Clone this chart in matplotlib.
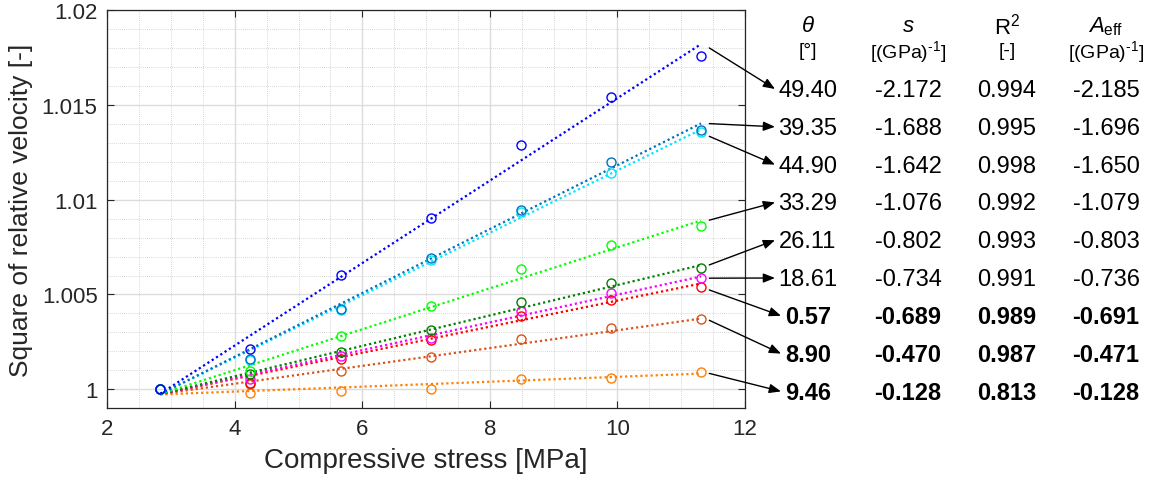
import matplotlib
matplotlib.use("Agg")
import matplotlib.pyplot as plt
from matplotlib.ticker import MultipleLocator

plt.rcParams["font.family"] = ["Liberation Sans", "DejaVu Sans"]
plt.rcParams["mathtext.fontset"] = "custom"
plt.rcParams["mathtext.rm"] = "Liberation Sans"
plt.rcParams["mathtext.it"] = "Liberation Sans:italic"

# compressive stress [MPa]
stress = [2.83, 4.24, 5.66, 7.07, 8.49, 9.90, 11.31]

# measured square of relative velocity, one list per angle
v_4940 = [1.0, 1.00215, 1.00601, 1.00905, 1.01288, 1.01540, 1.01757]
v_3935 = [1.0, 1.00162, 1.00424, 1.00692, 1.00947, 1.01200, 1.01365]
v_4490 = [1.0, 1.00155, 1.00420, 1.00684, 1.00933, 1.01139, 1.01356]
v_3329 = [1.0, 1.00099, 1.00283, 1.00438, 1.00634, 1.00762, 1.00859]
v_2611 = [1.0, 1.00083, 1.00197, 1.00312, 1.00461, 1.00563, 1.00639]
v_1861 = [1.0, 1.00053, 1.00176, 1.00273, 1.00414, 1.00510, 1.00586]
v_0057 = [1.0, 1.00035, 1.00158, 1.00260, 1.00387, 1.00470, 1.00542]
v_0890 = [1.0, 1.00026, 1.00097, 1.00172, 1.00268, 1.00326, 1.00370]
v_0946 = [1.0, 0.99979, 0.99989, 1.00000, 1.00053, 1.00062, 1.00092]

# fitted lines: value at first and last stress
fit_start = [0.99977, 0.99975, 0.99975, 0.99975, 0.99975, 0.99975, 0.99975, 0.99975, 0.99973]
fit_end = [1.01820, 1.01402, 1.01370, 1.00890, 1.00655, 1.00595, 1.00558, 1.00373, 1.00083]
arrow_start = [1.01800, 1.01401, 1.01334, 1.00892, 1.00656, 1.00586, 1.00524, 1.00364, 1.00084]

colors = ["#0000ff", "#0072bd", "#00e5ff", "#00ff00", "#008000",
          "#ff00ff", "#ff0000", "#d95319", "#ff8000"]

# table
theta = ["49.40", "39.35", "44.90", "33.29", "26.11", "18.61", "0.57", "8.90", "9.46"]
s_val = ["-2.172", "-1.688", "-1.642", "-1.076", "-0.802", "-0.734", "-0.689", "-0.470", "-0.128"]
r2_val = ["0.994", "0.995", "0.998", "0.992", "0.993", "0.991", "0.989", "0.987", "0.813"]
aeff_val = ["-2.185", "-1.696", "-1.650", "-1.079", "-0.803", "-0.736", "-0.691", "-0.471", "-0.128"]
bold = [False, False, False, False, False, False, True, True, True]

headers = [r"$\mathit{\theta}$", r"$\mathit{s}$", r"R$^2$", r"$\mathit{A}_{\mathrm{eff}}$"]
units = ["[°]", r"[(GPa)$^{\text{-1}}$]", "[-]", r"[(GPa)$^{\text{-1}}$]"]

yticks = [1.0, 1.005, 1.01, 1.015, 1.02]
ytick_labels = ["1", "1.005", "1.01", "1.015", "1.02"]

series = [v_4940, v_3935, v_4490, v_3329, v_2611, v_1861, v_0057, v_0890, v_0946]

W, H = 1161, 481
fig = plt.figure(figsize=(W / 100, H / 100), dpi=100)
ax = fig.add_axes([107.3 / W, 1 - 409.3 / H, (745 - 107.3) / W, (409.3 - 11) / H])

dark = (0.15, 0.15, 0.15)
# reversed so the first series ends up on top
for i in reversed(range(len(series))):
    ax.plot([stress[0], stress[-1]], [fit_start[i], fit_end[i]], color=colors[i],
            linestyle=(0, (1, 1.3)), lw=1.6, zorder=2)
    ax.plot(stress, series[i], "o", mfc="none", mec=colors[i], ms=6.5, mew=1.0, zorder=3)

ax.set_xlim(2, 12)
ax.set_ylim(0.999, 1.02)
ax.set_xticks([2, 4, 6, 8, 10, 12])
ax.set_yticks(yticks)
ax.set_yticklabels(ytick_labels)
ax.xaxis.set_minor_locator(MultipleLocator(0.5))
ax.yaxis.set_minor_locator(MultipleLocator(0.001))
ax.grid(True, which="major", color="#dcdcdc", lw=1.0)
ax.grid(True, which="minor", color="#c8c8c8", lw=0.6, linestyle=(0, (1, 1.5)))
ax.set_axisbelow(True)
ax.tick_params(which="major", direction="in", length=5, width=0.8, colors=dark,
               labelsize=16, top=True, right=True, pad=7)
ax.tick_params(which="minor", length=0, top=True, right=True)
for sp in ax.spines.values():
    sp.set_color(dark)
    sp.set_linewidth(0.9)

ax.set_xlabel("Compressive stress [MPa]", fontsize=20, color=dark, labelpad=6)
ax.set_ylabel("Square of relative velocity [-]", fontsize=19, color=dark, labelpad=6)


def fx(px):
    return px / W


def fy(py):
    return 1 - py / H


col_x = [808, 908, 1007, 1106]
for j in range(4):
    fig.text(fx(col_x[j]), fy(27), headers[j], fontsize=16, ha="center", va="center")
    fig.text(fx(col_x[j]), fy(52), units[j], fontsize=14, ha="center", va="center")

for i in range(len(theta)):
    yrow = 91 + 37.8 * i
    w = "bold" if bold[i] else "normal"
    for j, txt in enumerate([theta[i], s_val[i], r2_val[i], aeff_val[i]]):
        fig.text(fx(col_x[j]), fy(yrow), txt, fontsize=17, ha="center", va="center",
                 fontweight=w)
    tip_x = 781 if bold[i] else 775
    ax.annotate("", xy=(fx(tip_x), fy(yrow - 1)), xycoords="figure fraction",
                xytext=(11.44, arrow_start[i]), textcoords="data",
                arrowprops=dict(arrowstyle="-|>,head_length=0.7,head_width=0.28",
                                color="black", lw=1.0, mutation_scale=10,
                                shrinkA=0, shrinkB=0),
                annotation_clip=False)

fig.savefig("out.png", dpi=100)
